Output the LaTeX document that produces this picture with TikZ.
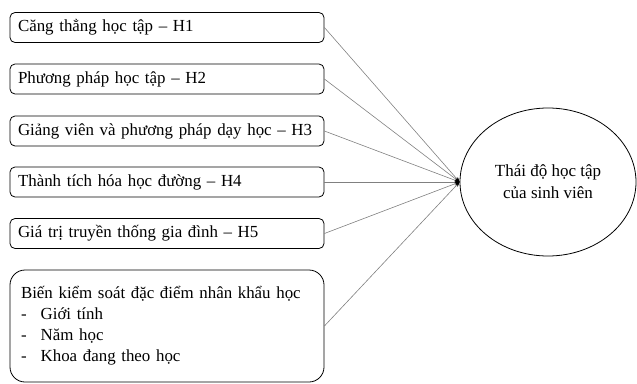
\documentclass[tikz,border=0pt]{standalone}
\usepackage{fontspec}
\setmainfont{Liberation Serif}
\usetikzlibrary{shapes.geometric,arrows.meta}
\begin{document}
\begin{tikzpicture}[x=1pt,y=-1pt,
  factor/.style={draw, line width=0.8pt, rounded corners=5pt, minimum height=30pt,
    text width=298pt, align=left, inner xsep=8pt, inner ysep=0pt,
    font=\fontsize{16.9}{21}\selectfont},
  outcome/.style={draw, ellipse, line width=0.8pt, minimum width=176pt, minimum height=148pt,
    inner sep=0pt, align=center, font=\fontsize{17}{22}\selectfont},
  link/.style={draw=gray, line width=0.6pt, -{Stealth[length=5pt,width=4pt,color=black]}}]
\useasboundingbox (0,0) rectangle (637,383);

\node[factor] (h1) at (167,27.5) {Căng thẳng học tập – H1};
\node[factor] (h2) at (167,79) {Phương pháp học tập – H2};
\node[factor] (h3) at (167,131) {Giảng viên và phương pháp dạy học – H3};
\node[factor] (h4) at (167,182) {Thành tích hóa học đường – H4};
\node[factor] (h5) at (167,233.5) {Giá trị truyền thống gia đình – H5};
\node[factor, rounded corners=15pt, minimum height=112pt, inner xsep=11pt, text width=292pt] (ctrl) at (167,326)
  {Biến kiểm soát đặc điểm nhân khẩu học\\
   -\hspace{14pt}Giới tính\\
   -\hspace{14pt}Năm học\\
   -\hspace{14pt}Khoa đang theo học};

\node[outcome] (att) at (548,182) {Thái độ học tập\\của sinh viên};

\foreach \src in {h1,h2,h3,h4,h5,ctrl}
  \draw[link] (\src.east) -- (att.west);
\end{tikzpicture}
\end{document}
